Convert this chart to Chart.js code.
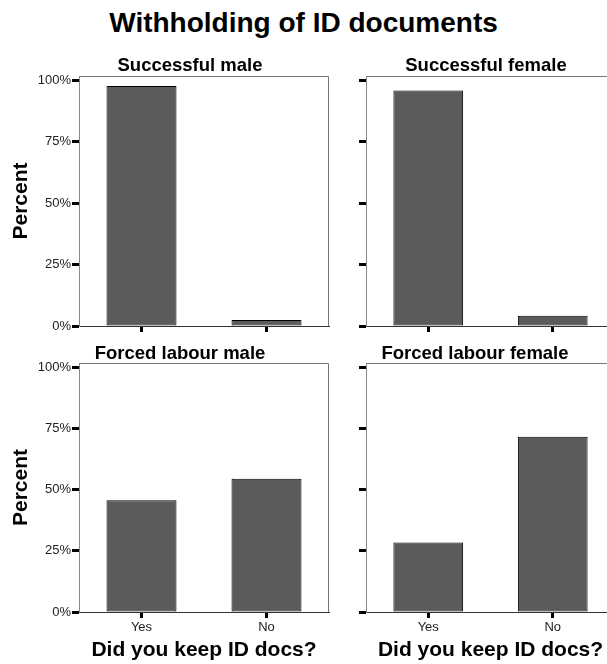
<!DOCTYPE html>
<html lang="en">
<head>
    <meta charset="UTF-8">
    <title>Withholding of ID documents</title>
    <style>
        html, body {
            margin: 0;
            padding: 0;
            background: #fff;
            overflow: hidden;
        }
        #page {
            position: relative;
            width: 607px;
            height: 664px;
            overflow: hidden;
            font-family: "Liberation Sans", Arial, sans-serif;
        }
        #page canvas {
            position: absolute;
        }
        .main-title {
            position: absolute;
            left: 0;
            top: 7px;
            width: 607px;
            text-align: center;
            font-size: 28px;
            line-height: 32px;
            font-weight: bold;
            color: #000;
        }
        .panel-title {
            position: absolute;
            width: 300px;
            text-align: center;
            font-size: 18.5px;
            line-height: 20px;
            font-weight: bold;
            color: #000;
            white-space: nowrap;
        }
    </style>
    <script src="https://cdn.jsdelivr.net/npm/chart.js"></script>
</head>
<body>
    <div id="page">
        <div class="main-title">Withholding of ID documents</div>

        <canvas id="c1" width="332" height="274" style="left:0px;top:62px"></canvas>
        <canvas id="c2" width="331" height="274" style="left:287px;top:62px"></canvas>
        <canvas id="c3" width="332" height="324" style="left:0px;top:340px"></canvas>
        <canvas id="c4" width="331" height="324" style="left:287px;top:340px"></canvas>

        <div class="panel-title" style="left:40px;top:55px">Successful male</div>
        <div class="panel-title" style="left:336px;top:55px">Successful female</div>
        <div class="panel-title" style="left:30px;top:343px">Forced labour male</div>
        <div class="panel-title" style="left:325px;top:343px">Forced labour female</div>
    </div>

    <script>
        // data (percent of respondents)
        const categories = ['Yes', 'No'];
        const successfulMale = [97.6, 2.4];
        const successfulFemale = [95.8, 4.2];
        const forcedMale = [45.6, 54.4];
        const forcedFemale = [28.4, 71.6];
        const yTickValues = [0, 25, 50, 75, 100];
        const yTitle = 'Percent';
        const xTitle = 'Did you keep ID docs?';

        const FONT = "'Liberation Sans', Arial, sans-serif";

        // top + right frame lines of the plot box
        const framePlugin = {
            id: 'frame',
            afterDraw(chart) {
                const a = chart.chartArea;
                const ctx = chart.ctx;
                ctx.save();
                ctx.strokeStyle = '#777';
                ctx.lineWidth = 1;
                ctx.beginPath();
                ctx.moveTo(Math.round(a.left) + 0.5, Math.round(a.top) + 0.5);
                ctx.lineTo(Math.round(a.right) - 0.5, Math.round(a.top) + 0.5);
                ctx.lineTo(Math.round(a.right) - 0.5, Math.round(a.bottom));
                ctx.stroke();
                ctx.restore();
            }
        };

        function makePanel(id, values, opt) {
            const ctx = document.getElementById(id).getContext('2d');
            return new Chart(ctx, {
                type: 'bar',
                data: {
                    labels: categories,
                    datasets: [{
                        data: values,
                        backgroundColor: '#5b5b5b',
                        borderColor: '#000',
                        borderWidth: 1,
                        borderSkipped: false,
                        categoryPercentage: 1,
                        barPercentage: 0.56
                    }]
                },
                plugins: [framePlugin],
                options: {
                    responsive: false,
                    animation: false,
                    devicePixelRatio: 1,
                    layout: {
                        padding: { top: opt.padTop, right: 3, left: 0, bottom: 0 }
                    },
                    plugins: {
                        legend: { display: false },
                        tooltip: { enabled: false },
                        title: { display: false }
                    },
                    scales: {
                        x: {
                            offset: true,
                            grid: {
                                offset: false,
                                drawOnChartArea: false,
                                drawTicks: true,
                                tickLength: 6,
                                tickWidth: 3,
                                tickColor: '#000'
                            },
                            border: { display: true, color: '#333', width: 1 },
                            ticks: {
                                display: opt.xLabels,
                                padding: 2,
                                color: '#222',
                                font: { family: FONT, size: 13 }
                            },
                            title: {
                                display: opt.xLabels,
                                text: xTitle,
                                color: '#000',
                                padding: { top: 0, bottom: 1 },
                                font: { family: FONT, size: 21, weight: 'bold' }
                            },
                            afterFit(scale) { scale.height = opt.xHeight; }
                        },
                        y: {
                            min: 0,
                            max: 101.7,
                            afterBuildTicks(scale) {
                                scale.ticks = yTickValues.map(v => ({ value: v }));
                            },
                            grid: {
                                drawOnChartArea: false,
                                drawTicks: true,
                                tickLength: 7,
                                tickWidth: 3,
                                tickColor: '#000'
                            },
                            border: { display: true, color: '#888', width: 1 },
                            ticks: {
                                display: opt.yLabels,
                                padding: 1,
                                color: '#222',
                                font: { family: FONT, size: 13 },
                                callback: v => v + '%'
                            },
                            title: {
                                display: opt.yLabels,
                                text: yTitle,
                                color: '#000',
                                padding: { top: 9, bottom: 0 },
                                font: { family: FONT, size: 21, weight: 'bold' }
                            },
                            afterFit(scale) { scale.width = 79; }
                        }
                    }
                }
            });
        }

        makePanel('c1', successfulMale, { padTop: 14, xHeight: 10, xLabels: false, yLabels: true });
        makePanel('c2', successfulFemale, { padTop: 14, xHeight: 10, xLabels: false, yLabels: false });
        makePanel('c3', forcedMale, { padTop: 23, xHeight: 52, xLabels: true, yLabels: true });
        makePanel('c4', forcedFemale, { padTop: 23, xHeight: 52, xLabels: true, yLabels: false });
    </script>
</body>
</html>
